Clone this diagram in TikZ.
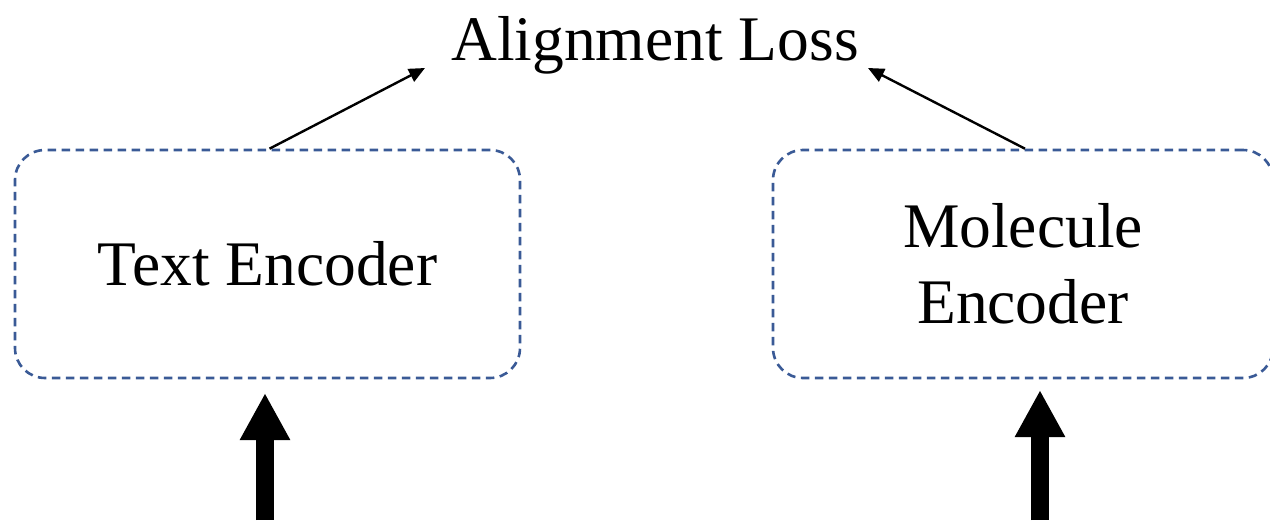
\documentclass[tikz,border=0pt]{standalone}
\usepackage{fontspec}
\setmainfont{Liberation Serif}
\usetikzlibrary{arrows.meta}
\definecolor{dashblue}{HTML}{3A5A96}
\tikzset{
  encbox/.style={draw=dashblue, line width=2.6pt, dash pattern=on 8.5pt off 5.5pt,
    rounded corners=30pt, minimum height=228pt, align=center, inner sep=0pt,
    font=\fontsize{63.5}{76}\selectfont},
  thinarrow/.style={line width=2.4pt, -{Triangle[length=16pt,width=14pt]}},
  thickarrow/.style={line width=18pt, -{Triangle[length=47pt,width=47pt]}},
  lbl/.style={font=\fontsize{63.5}{76}\selectfont, inner sep=0pt}
}
\begin{document}
\begin{tikzpicture}[x=1pt,y=-1pt]
\useasboundingbox (0,0) rectangle (1270,520);
\begin{scope}
\clip (0,0) rectangle (1270,520);
\node[encbox, minimum width=505pt] (tbox) at (267.5,264) {Text Encoder};
\node[encbox, minimum width=500pt] (mbox) at (1023,264) {Molecule\\Encoder};
\end{scope}
\node[lbl, anchor=base] (loss) at (655,60) {Alignment Loss};
\coordinate (lt) at (425,68);
\coordinate (rt) at (868,68);
\draw[thinarrow] ([xshift=2pt]tbox.north) -- (lt);
\draw[thinarrow] ([xshift=2pt]mbox.north) -- (rt);
\coordinate (tin) at (265,520);
\coordinate (min) at (1040,520);
\draw[thickarrow] (tin) -- (265,393);
\draw[thickarrow] (min) -- (1040,390);
\end{tikzpicture}
\end{document}
